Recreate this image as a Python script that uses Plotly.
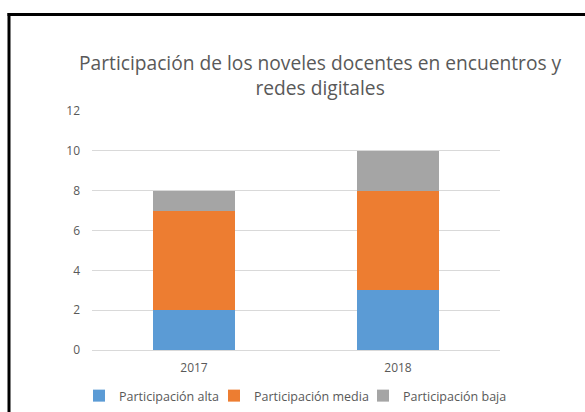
import plotly.graph_objects as go

categories = ["2017", "2018"]
alta = [2, 3]
media = [5, 5]
baja = [1, 2]
series_names = ["Participación alta", "Participación media", "Participación baja"]
tick_vals = [0, 2, 4, 6, 8, 10, 12]
title_text = "Participación de los noveles docentes en encuentros y<br>redes digitales"

colors = ["#5B9BD5", "#ED7D31", "#A5A5A5"]
FONT = "Open Sans"
W, H = 585, 412
L, R, T, B = 92, 85, 111, 62
pw, ph = W - L - R, H - T - B

def px(x):
    return (x - L) / pw

def py(y):
    return (H - B - y) / ph

legend_ids = ["legend", "legend2", "legend3"]
legend_text_x = [119, 254, 403]

fig = go.Figure()
for name, vals, c, lid in zip(series_names, [alta, media, baja], colors, legend_ids):
    fig.add_trace(go.Bar(x=categories, y=vals, name=name, legend=lid,
                         marker=dict(color=c, line=dict(width=0))))

legend_common = dict(orientation="h", xanchor="left", yanchor="middle",
                     xref="container", yref="container", y=1 - 396 / H,
                     font=dict(size=12.5, color="#595959", family=FONT), itemwidth=30,
                     bgcolor="rgba(0,0,0,0)", borderwidth=0)
legends = {}
for lid, tx in zip(legend_ids, legend_text_x):
    legends[lid] = dict(legend_common, x=(tx - 40) / W)

fig.update_layout(
    width=W, height=H,
    margin=dict(l=L, r=R, t=T, b=B, pad=0, autoexpand=False),
    barmode="stack", bargap=0.6,
    plot_bgcolor="white", paper_bgcolor="white",
    font=dict(family=FONT, color="#595959", size=12),
    showlegend=True,
    **legends,
    xaxis=dict(showgrid=False, showline=False, ticks="", ticklabelstandoff=9,
               tickfont=dict(size=12, color="#595959")),
    yaxis=dict(range=[0, 12], tickvals=tick_vals, showgrid=True, gridcolor="#D9D9D9", gridwidth=1,
               zeroline=True, zerolinecolor="#D9D9D9", zerolinewidth=1, ticks="", ticklabelstandoff=11,
               tickfont=dict(size=12, color="#595959")),
    annotations=[dict(text=title_text, xref="paper", yref="paper", x=px(320), y=py(74.5),
                      xanchor="center", yanchor="middle", showarrow=False,
                      font=dict(size=19.2, color="#595959", family=FONT))],
    shapes=[
        dict(type="rect", xref="paper", yref="paper", x0=px(7.5), x1=px(585), y0=py(13), y1=py(16),
             fillcolor="black", line=dict(width=0), layer="above"),
        dict(type="rect", xref="paper", yref="paper", x0=px(7.5), x1=px(10.5), y0=py(13), y1=py(412),
             fillcolor="black", line=dict(width=0), layer="above"),
    ],
)

fig.write_html(
    "out.html",
    config={"displayModeBar": False},
    post_script=("document.body.style.margin='0';document.body.style.overflow='hidden';"
                 "document.documentElement.style.overflow='hidden';"),
)
